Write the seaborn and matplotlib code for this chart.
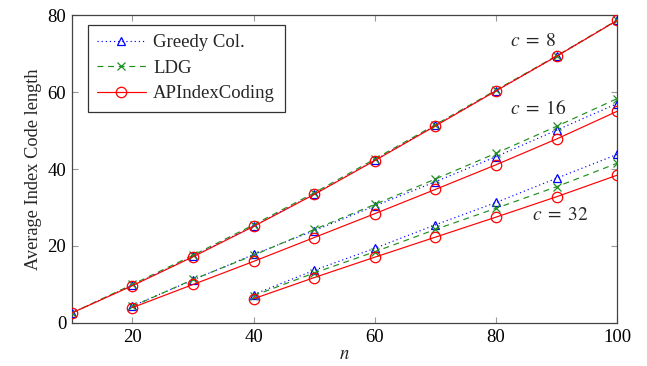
import numpy as np
import pandas as pd
import matplotlib
matplotlib.use("Agg")
import matplotlib.pyplot as plt
import seaborn as sns

# ---- data ----
n_c8 = [10, 20, 30, 40, 50, 60, 70, 80, 90, 100]
n_c16 = [20, 30, 40, 50, 60, 70, 80, 90, 100]
n_c32 = [40, 50, 60, 70, 80, 90, 100]

greedy_c8 = [2.6, 9.8, 17.3, 25.2, 33.5, 42.3, 51.3, 60.3, 69.3, 78.6]
ldg_c8 = [2.6, 10.0, 17.6, 25.5, 33.8, 42.6, 51.5, 60.5, 69.4, 78.7]
ap_c8 = [2.6, 9.7, 17.2, 25.1, 33.4, 42.2, 51.2, 60.3, 69.3, 78.6]

greedy_c16 = [4.4, 11.2, 17.8, 24.0, 30.4, 36.7, 43.2, 50.1, 57.0]
ldg_c16 = [4.3, 11.3, 17.6, 24.3, 30.8, 37.4, 44.1, 51.1, 58.3]
ap_c16 = [4.0, 10.0, 16.0, 22.2, 28.4, 34.7, 41.1, 47.8, 55.0]

greedy_c32 = [7.4, 13.7, 19.4, 25.5, 31.3, 37.6, 43.8]
ldg_c32 = [7.1, 13.0, 18.5, 24.3, 29.8, 35.4, 41.5]
ap_c32 = [6.3, 11.8, 17.1, 22.3, 27.5, 32.8, 38.4]

methods = ["Greedy Col.", "LDG", "APIndexCoding"]
x_ticks = [20, 40, 60, 80, 100]
y_ticks = [0, 20, 40, 60, 80]

rows = []
for c, ns, g, l, a in [(8, n_c8, greedy_c8, ldg_c8, ap_c8),
                       (16, n_c16, greedy_c16, ldg_c16, ap_c16),
                       (32, n_c32, greedy_c32, ldg_c32, ap_c32)]:
    for m, vals in zip(methods, [g, l, a]):
        for nn, v in zip(ns, vals):
            rows.append({"n": nn, "val": v, "method": m, "c": c})
df = pd.DataFrame(rows)

sns.set_theme(style="white")
plt.rcParams["font.family"] = ["Liberation Serif", "DejaVu Serif"]
plt.rcParams["mathtext.fontset"] = "stix"

styles = {
    "Greedy Col.": dict(color="blue", linestyle=(0, (1, 2.5)), marker="^", ms=6,
                        mfc="none", mec="blue", mew=0.9),
    "LDG": dict(color="#1f8f1f", linestyle=(0, (5, 4)), marker="x", ms=5.5,
                mec="#1f8f1f", mew=0.9),
    "APIndexCoding": dict(color="red", linestyle="-", marker="o", ms=7.5,
                          mfc="none", mec="red", mew=0.9),
}

fig = plt.figure(figsize=(6.47, 3.66), dpi=100)
ax = fig.add_axes([0.111, 0.1175, 0.843, 0.8415])

for m in methods:
    for c in [8, 16, 32]:
        sub = df[(df.method == m) & (df.c == c)]
        st = styles[m]
        sns.lineplot(data=sub, x="n", y="val", ax=ax, color=st["color"],
                     linestyle=st["linestyle"], linewidth=0.85,
                     marker=st["marker"], markersize=st["ms"],
                     markerfacecolor=st.get("mfc", st["color"]),
                     markeredgecolor=st["mec"], markeredgewidth=st["mew"],
                     label=m if c == 8 else None, legend=False, zorder=3)

ax.set_xlim(10, 100)
ax.set_ylim(0, 80)
ax.set_xticks(x_ticks)
ax.set_yticks(y_ticks)
ax.tick_params(direction="in", length=4, width=0.8, color="#999999",
               top=True, right=True, bottom=True, left=True,
               labelsize=13.5, labelcolor="black", pad=4)
for s in ax.spines.values():
    s.set_color("#444444")
    s.set_linewidth(0.9)
ax.set_xlabel("$n$", fontsize=13.5, labelpad=0)
ax.set_ylabel("Average Index Code length", fontsize=13.2, labelpad=4)

ax.text(86.1, 73.0, r"$c\;=\;8$", fontsize=14, ha="center", va="center")
ax.text(86.9, 55.6, r"$c\;=\;16$", fontsize=14, ha="center", va="center")
ax.text(90.6, 28.0, r"$c\;=\;32$", fontsize=14, ha="center", va="center")

handles, labels = ax.get_legend_handles_labels()
leg = ax.legend(handles, labels, loc="upper left", bbox_to_anchor=(0.029, 0.968),
                fontsize=13.5, frameon=True, fancybox=False, edgecolor="black",
                handlelength=2.6, handletextpad=0.4, borderpad=0.5,
                labelspacing=0.45, borderaxespad=0)
leg.get_frame().set_linewidth(0.9)

fig.savefig("out.png", dpi=100)
